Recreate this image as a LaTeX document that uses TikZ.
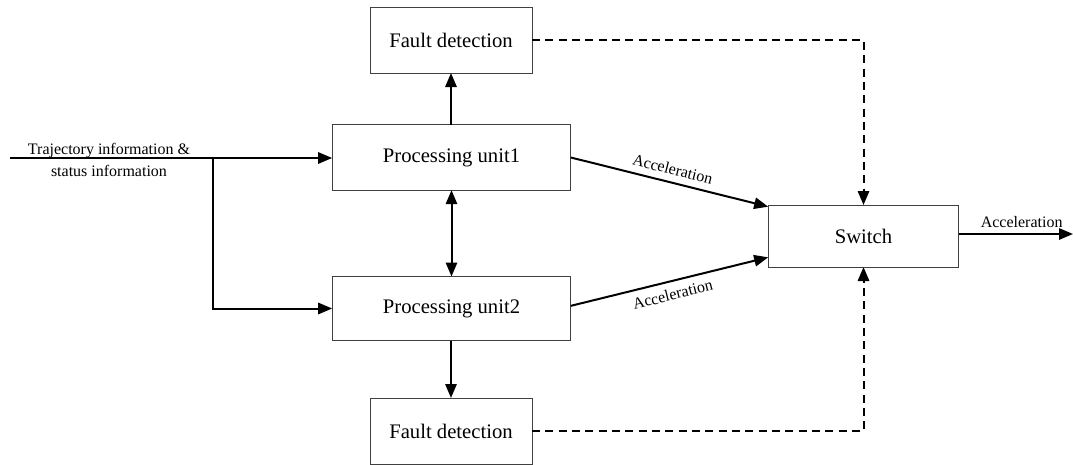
\documentclass[tikz,border=0pt]{standalone}
\usepackage{fontspec}
\setmainfont{Liberation Serif}
\usetikzlibrary{arrows.meta,positioning}

\tikzset{
  block/.style={draw=black!75,line width=0.6pt,fill=white,inner sep=0pt,outer sep=0pt,
    font=\fontsize{15.5}{18}\selectfont},
  flow/.style={-{Triangle[length=10.5pt,width=8.5pt]},line width=1.5pt},
  fault/.style={-{Triangle[length=10.5pt,width=8.5pt]},line width=1.5pt,dash pattern=on 6pt off 4pt},
  tag/.style={font=\fontsize{12}{14}\selectfont,inner sep=1pt}
}

\begin{document}
\begin{tikzpicture}[x=0.75pt,y=-0.75pt,line join=miter]
  \useasboundingbox (0,0) rectangle (1073,464);
  % ============ Blocks ============
  \node[block,minimum width=121.5pt,minimum height=49.5pt] (fdtop) at (451,40)  {Fault detection};
  \node[block,minimum width=179pt,minimum height=49pt]     (pu1)   at (451.5,157.5) {Processing unit1};
  \node[block,minimum width=179pt,minimum height=48pt]     (pu2)   at (451.5,308.5) {Processing unit2};
  \node[block,minimum width=121.5pt,minimum height=49.5pt] (fdbot) at (451,431) {Fault detection};
  \node[block,minimum width=143pt,minimum height=46.5pt]   (switch) at (863.5,236) {Switch};
  % ============ Input and branch ============
  \coordinate (in)     at (10,158);
  \coordinate (branch) at (213,158);
  \coordinate (out)    at (1073,234);
  \draw[flow] (in) -- (pu1.west |- in);
  \draw[flow] (branch) |- (pu2.west);
  \node[tag,align=center] (intxt) at (109,160)
    {Trajectory information \&\\[2pt]status information};
  % ============ Fault detection links ============
  \draw[flow] (pu1.north -| fdtop.south) -- (fdtop.south);
  \draw[flow] (pu2.south -| fdbot.north) -- (fdbot.north);
  \draw[{Triangle[length=10.5pt,width=8.5pt]}-{Triangle[length=10.5pt,width=8.5pt]},line width=1.5pt]
    (pu1.south) -- (pu2.north);
  % ============ Outputs to switch ============
  \draw[flow] (pu1.east) -- ([yshift=22pt]switch.west)
    node[tag,midway,sloped,above=4pt] {Acceleration};
  \draw[flow] ([yshift=2pt]pu2.east) -- ([yshift=-16pt]switch.west)
    node[tag,midway,sloped,below=4pt] {Acceleration};
  \draw[fault] (fdtop.east) -| (switch.north);
  \draw[fault] (fdbot.east) -| (switch.south);
  \draw[flow] (switch.east |- out) -- (out)
    node[tag,pos=0.55,above=3pt] {Acceleration};
\end{tikzpicture}
\end{document}
